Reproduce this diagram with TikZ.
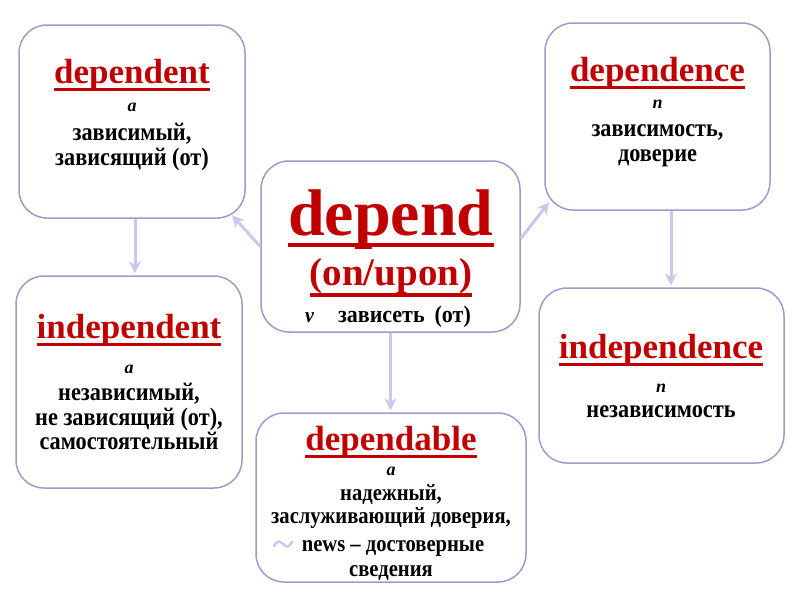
\documentclass[tikz,border=0pt]{standalone}
\usepackage{fontspec}
\usepackage{graphicx}
\setmainfont{Liberation Serif}
\usetikzlibrary{arrows.meta}
\definecolor{dred}{RGB}{192,0,0}
\definecolor{boxc}{RGB}{160,155,200}
\definecolor{arrc}{RGB}{200,200,236}
\newcommand\ulred[3]{\setbox0=\hbox{#3}\rlap{\color{dred}\rule[-#1]{\wd0}{#2}}\box0}
\newcommand\vst[1]{\scalebox{1}[1.13]{#1}}
\tikzset{
  wbox/.style={draw=boxc, line width=1.5pt, rounded corners=28pt, fill=white, inner sep=0pt},
  conn/.style={draw=arrc, line width=3pt, -{Stealth[length=12pt,width=12pt]}, shorten >=2pt},
  hd/.style={font=\fontsize{35}{40}\selectfont\bfseries, text=dred, anchor=base, inner sep=0pt},
  bl/.style={font=\fontsize{22.3}{26}\selectfont\bfseries, anchor=base, inner sep=0pt},
  bls/.style={font=\fontsize{20.6}{24}\selectfont\bfseries, anchor=base, inner sep=0pt},
  it/.style={font=\fontsize{18}{20}\selectfont\bfseries\itshape, anchor=base, inner sep=0pt},
}
\begin{document}
\begin{tikzpicture}[x=1pt,y=-1pt]
\useasboundingbox (0,0) rectangle (800,600);
% boxes
\node[wbox, minimum width=226pt, minimum height=193pt] (b1) at (132,121.5) {};
\node[wbox, minimum width=225pt, minimum height=187pt] (b2) at (657.5,116.5) {};
\node[wbox, minimum width=259pt, minimum height=171pt] (b3) at (390.5,246.5) {};
\node[wbox, minimum width=226pt, minimum height=212pt] (b4) at (129,382) {};
\node[wbox, minimum width=245pt, minimum height=175pt] (b5) at (661.5,375.5) {};
\node[wbox, minimum width=270pt, minimum height=169pt] (b6) at (391,497.5) {};
% connectors
\draw[conn] (b3.west) -- ([shift={(-15,-5)}]b1.south east);
\draw[conn] ([yshift=8pt]b3.east) -- ([shift={(6,-10)}]b2.south west);
\draw[conn] ([xshift=3pt]b1.south) -- ([xshift=3pt]b1.south |- b4.north);
\draw[conn] ([xshift=13.5pt]b2.south) -- ([xshift=13.5pt]b2.south |- b5.north);
\draw[conn] (b3.south) -- (b3.south |- b6.north);
% depend
\node[hd, font=\fontsize{66}{70}\selectfont\bfseries] (t3a) at (391,235) {\ulred{12pt}{4.5pt}{depend}};
\node[hd, font=\fontsize{39}{44}\selectfont\bfseries] (t3b) at (391,285) {\ulred{12pt}{4pt}{(on/upon)}};
\node[bl, font=\fontsize{22}{26}\selectfont\bfseries] (t3c) at (388,322) {\scalebox{1}[1.08]{{\fontsize{20}{24}\selectfont\itshape v}\hspace{24pt}зависеть\hspace{10pt}(от)}};
% dependent
\node[hd] (t1a) at (132,83) {\ulred{8pt}{3pt}{dependent}};
\node[it] (t1b) at (132,111.7) {a};
\node[bl] (t1c) at (132,140) {\vst{зависимый,}};
\node[bl] (t1d) at (132,165) {\vst{зависящий (от)}};
% dependence
\node[hd] (t2a) at (657.5,81) {\ulred{8pt}{3pt}{dependence}};
\node[it] (t2b) at (657.5,108) {n};
\node[bl] (t2c) at (657.5,136) {\vst{зависимость,}};
\node[bl] (t2d) at (657.5,161) {\vst{доверие}};
% independent
\node[hd] (t4a) at (129,338) {\ulred{8pt}{3pt}{independent}};
\node[it] (t4b) at (129,373) {a};
\node[bl] (t4c) at (129,400) {\vst{независимый,}};
\node[bl] (t4d) at (129,425) {\vst{не зависящий (от),}};
\node[bl] (t4e) at (129,449.5) {\vst{самостоятельный}};
% independence
\node[hd] (t5a) at (661,358) {\ulred{8pt}{3pt}{independence}};
\node[it] (t5b) at (661,392) {n};
\node[bl] (t5c) at (661,417) {\vst{независимость}};
% dependable
\node[hd] (t6a) at (391,450) {\ulred{8pt}{3pt}{dependable}};
\node[it] (t6b) at (391,475) {a};
\node[bls] (t6c) at (391,500) {\vst{надежный,}};
\node[bls] (t6d) at (391,523) {\vst{заслуживающий доверия,}};
\node[bls] (t6e) at (393,551) {\vst{news – достоверные}};
\node[bls] (t6f) at (391,576) {\vst{сведения}};
\draw[arrc, line width=2.5pt, line cap=round] (274,546) sin (278.5,541.5) cos (283,544) sin (287.5,546.5) cos (292,542);
\end{tikzpicture}
\end{document}
